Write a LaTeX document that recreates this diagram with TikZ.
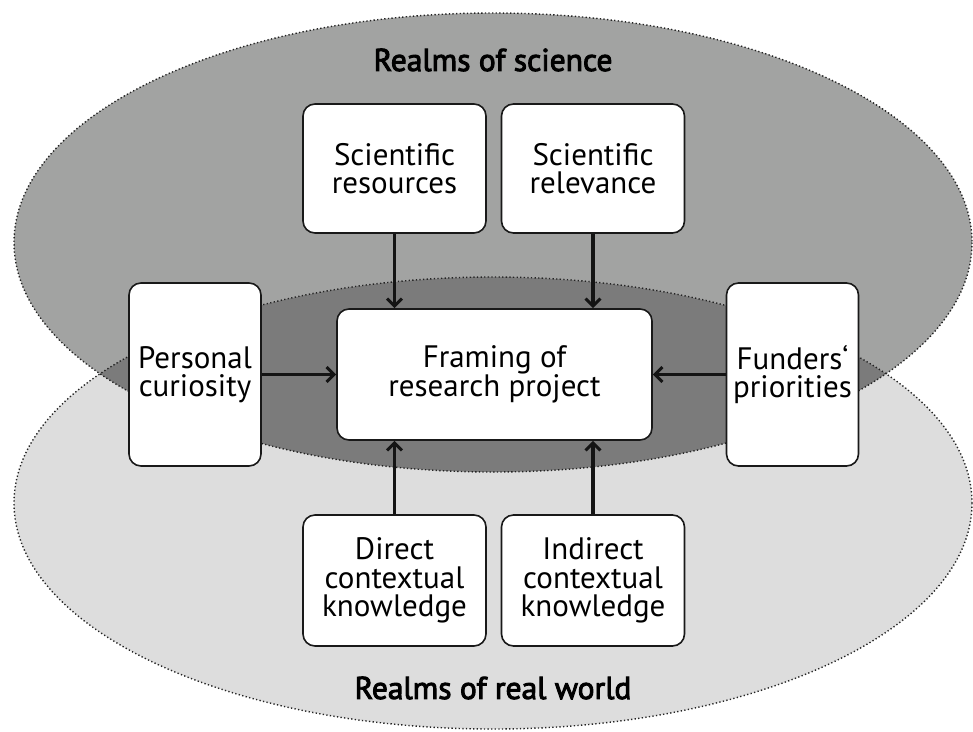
\documentclass[tikz,border=0pt]{standalone}
\usepackage{fontspec}
\setmainfont{PT Sans}
\newfontfamily\realmfont[FakeBold=3]{PT Sans}
\usetikzlibrary{arrows.meta}
\definecolor{sciencegray}{RGB}{162,163,162}
\definecolor{worldgray}{RGB}{221,221,221}
\definecolor{overlapgray}{RGB}{123,123,123}
\definecolor{rimdots}{RGB}{35,35,35}
\tikzset{
  box/.style={draw=black!90, line width=1.6pt, fill=white, rounded corners=12pt,
    align=center, inner sep=0pt, font=\fontsize{31}{28.5}\selectfont},
  topbox/.style={box, minimum width=183pt, minimum height=129pt},
  sidebox/.style={box, minimum width=132pt, minimum height=183pt},
  flow/.style={line width=3.8pt, draw=black!92,
    -{Straight Barb[length=7.5pt,width=15pt,line width=3pt]}},
  rim/.style={draw=rimdots, line width=1.4pt, dash pattern=on 1.3pt off 2.3pt},
  realm/.style={font=\fontsize{31.5}{30}\realmfont}
}
\begin{document}
\begin{tikzpicture}[x=1pt,y=-1pt]
\useasboundingbox (0,0) rectangle (973,731);

% the two realms and their overlap
\fill[sciencegray] (493,242.5) ellipse [x radius=479, y radius=229.5];
\fill[worldgray] (493,503) ellipse [x radius=479, y radius=226];
\begin{scope}
  \clip (493,242.5) ellipse [x radius=479, y radius=229.5];
  \fill[overlapgray] (493,503) ellipse [x radius=479, y radius=226];
\end{scope}
\draw[rim] (493,242.5) ellipse [x radius=479, y radius=229.5];
\draw[rim] (493,503) ellipse [x radius=479, y radius=226];

\node[realm] (science) at (493,60) {Realms of science};
\node[realm] (world) at (493,688) {Realms of real world};

% influence boxes
\node[topbox] (sres) at (394.5,168.5) {Scientific\\resources};
\node[topbox] (srel) at (593,168.5) {Scientific\\relevance};
\node[box, minimum width=315pt, minimum height=131pt] (frame) at (494.5,374.5) {Framing of\\research project};
\node[sidebox] (pers) at (195,374.5) {Personal\\curiosity};
\node[sidebox] (fund) at (792.5,374.5) {Funders‘\\priorities};
\node[topbox, minimum height=131pt] (direct) at (394.5,580.5) {Direct\\contextual\\knowledge};
\node[topbox, minimum height=131pt] (indirect) at (593,580.5) {Indirect\\contextual\\knowledge};

% connectors into the framing box
\draw[flow] (sres.south) -- (sres.south |- frame.north);
\draw[flow] (srel.south) -- (srel.south |- frame.north);
\draw[flow] (direct.north) -- (direct.north |- frame.south);
\draw[flow] (indirect.north) -- (indirect.north |- frame.south);
\draw[flow] (pers.east |- frame.center) -- (frame.west);
\draw[flow] (fund.west |- frame.center) -- (frame.east);
\end{tikzpicture}
\end{document}
